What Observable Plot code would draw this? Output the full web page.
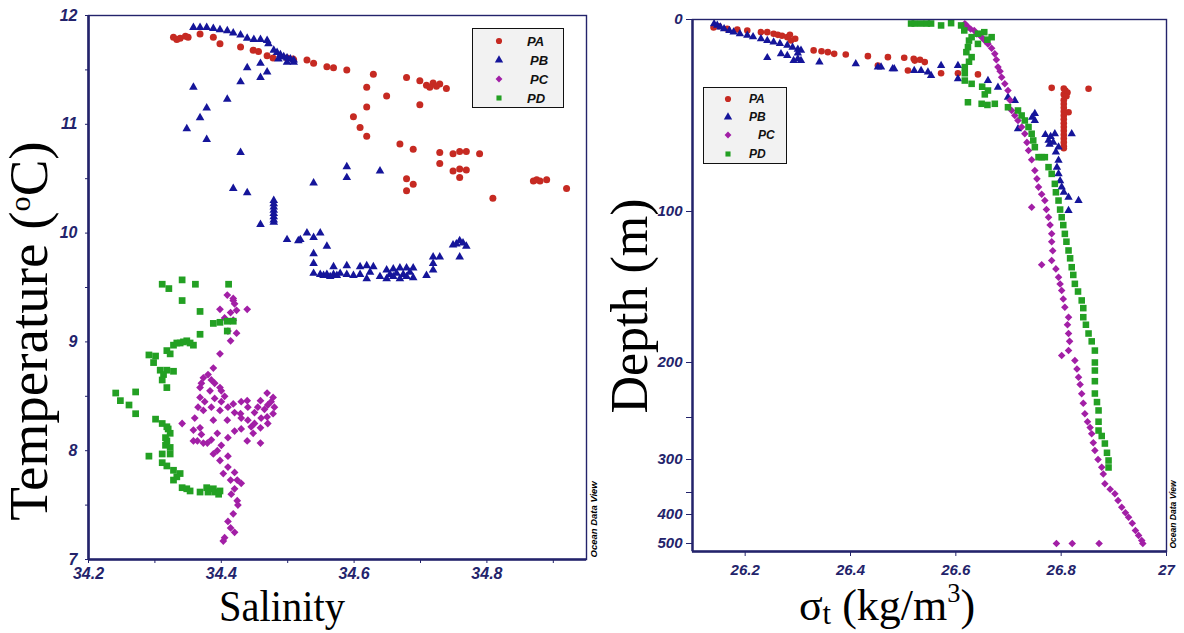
<!DOCTYPE html>
<html>
<head>
<meta charset="utf-8">
<script src="https://cdn.jsdelivr.net/npm/d3@7"></script>
<script src="https://cdn.jsdelivr.net/npm/@observablehq/plot@0.6"></script>
<style>
html, body { margin: 0; padding: 0; background: #fff; }
#wrap { position: relative; width: 1184px; height: 633px; background: #fff; }
#left { position: absolute; left: 0; top: 0; }
#right { position: absolute; left: 600px; top: 0; }
.title { position: absolute; font-family: "Liberation Serif", "Times New Roman", serif; color: #000; white-space: nowrap; }
.title span { position: relative; line-height: 0; }
.legend { position: absolute; background: #f2f2f2; border: 1px solid #111; box-sizing: border-box; }
.legend .lab { position: absolute; font-family: "Liberation Sans", Arial, sans-serif; font-weight: bold; font-style: italic; color: #111; line-height: 1; }
.legend svg { position: absolute; overflow: visible; }
</style>
</head>
<body>
<div id="wrap">
  <div id="left"></div>
  <div id="right"></div>
  <div class="title" style="left:29px;top:331px;font-size:55px;line-height:0.8;transform:translate(-50%,-50%) rotate(-90deg);">Temperature (<span style="font-size:0.55em;top:-0.55em;">o</span>C)</div>
  <div class="title" style="left:282px;top:590px;font-size:44px;line-height:0.75;transform:translateX(-50%) scaleX(0.92);">Salinity</div>
  <div class="title" style="left:630px;top:306px;font-size:52px;line-height:0.8;transform:translate(-50%,-50%) rotate(-90deg);">Depth (m)</div>
  <div class="title" style="left:887px;top:589px;font-size:44px;line-height:0.75;transform:translateX(-50%);">σ<span style="font-size:0.7em;top:0.12em;">t</span> (kg/m<span style="font-size:0.6em;top:-0.7em;">3</span>)</div>
</div>
<script>
// ---------- categories, colours ----------
const stations = ["PA", "PB", "PC", "PD"];
const stationColors = ["#c62a22", "#15159a", "#a21fa6", "#23a023"];
const stationSymbols = ["circle", "triangle", "diamond2", "square"];

// ---------- tick labels ----------
const salTicks = [34.2, 34.4, 34.6, 34.8];
const salMinor = [34.3, 34.5, 34.7, 34.9];
const tempTicks = [7, 8, 9, 10, 11, 12];
const tempMinor = [7.5, 8.5, 9.5, 10.5, 11.5];
const sigmaTicks = [26.2, 26.4, 26.6, 26.8, 27];
const depthTicks = [0, 100, 200, 300, 400, 500];
const depthMinor = [250, 350];

// ---------- T-S diagram: [salinity, temperature °C] ----------
const paTS = [[34.328,11.80],[34.338,11.79],[34.333,11.78],[34.346,11.81],[34.350,11.80],[34.368,11.83],[34.388,11.80],[34.398,11.74],[34.429,11.71],[34.448,11.68],[34.456,11.67],[34.469,11.63],[34.478,11.61],[34.499,11.61],[34.508,11.60],[34.509,11.59],[34.529,11.59],[34.539,11.56],[34.559,11.53],[34.569,11.52],[34.589,11.50],[34.629,11.46],[34.619,11.34],[34.649,11.26],[34.619,11.16],[34.599,11.07],[34.609,10.97],[34.619,10.89],[34.679,11.43],[34.699,11.40],[34.709,11.36],[34.719,11.38],[34.729,11.37],[34.739,11.33],[34.714,11.34],[34.724,11.35],[34.699,11.18],[34.669,10.82],[34.689,10.77],[34.729,10.74],[34.729,10.64],[34.749,10.73],[34.759,10.75],[34.769,10.75],[34.789,10.73],[34.749,10.57],[34.759,10.59],[34.769,10.58],[34.759,10.51],[34.679,10.50],[34.689,10.45],[34.679,10.39],[34.809,10.32],[34.870,10.48],[34.880,10.48],[34.890,10.49],[34.875,10.49],[34.920,10.41]];
const pbTS = [[34.358,11.89],[34.368,11.89],[34.378,11.89],[34.388,11.88],[34.398,11.87],[34.409,11.86],[34.418,11.84],[34.429,11.82],[34.439,11.79],[34.449,11.78],[34.459,11.78],[34.469,11.77],[34.471,11.74],[34.479,11.68],[34.484,11.66],[34.489,11.64],[34.494,11.62],[34.499,11.61],[34.504,11.60],[34.509,11.59],[34.489,11.62],[34.499,11.57],[34.509,11.57],[34.486,11.60],[34.358,11.34],[34.348,10.96],[34.368,11.06],[34.378,11.15],[34.378,10.86],[34.409,11.23],[34.429,11.39],[34.439,11.52],[34.459,11.56],[34.459,11.43],[34.469,11.48],[34.429,10.74],[34.418,10.41],[34.439,10.37],[34.479,10.30],[34.479,10.27],[34.479,10.24],[34.479,10.21],[34.479,10.18],[34.479,10.15],[34.479,10.12],[34.479,10.10],[34.459,10.08],[34.499,9.94],[34.516,9.93],[34.589,10.61],[34.589,10.51],[34.639,10.57],[34.539,10.46],[34.519,9.94],[34.529,10.00],[34.539,9.96],[34.549,10.00],[34.559,9.88],[34.539,9.81],[34.539,9.72],[34.539,9.63],[34.549,9.62],[34.554,9.61],[34.559,9.62],[34.564,9.60],[34.569,9.69],[34.569,9.62],[34.574,9.61],[34.579,9.63],[34.589,9.70],[34.589,9.62],[34.599,9.61],[34.609,9.69],[34.609,9.62],[34.619,9.70],[34.619,9.58],[34.624,9.64],[34.629,9.69],[34.639,9.60],[34.649,9.66],[34.649,9.58],[34.654,9.62],[34.659,9.67],[34.659,9.60],[34.664,9.63],[34.669,9.68],[34.669,9.58],[34.674,9.62],[34.679,9.68],[34.679,9.60],[34.684,9.64],[34.689,9.68],[34.689,9.59],[34.709,9.61],[34.719,9.72],[34.719,9.78],[34.719,9.66],[34.729,9.78],[34.749,9.89],[34.754,9.90],[34.759,9.93],[34.764,9.91],[34.769,9.88],[34.759,9.78]];
const pcTS = [[34.409,9.43],[34.418,9.40],[34.439,9.30],[34.398,9.30],[34.414,9.27],[34.418,9.38],[34.423,9.29],[34.420,9.35],[34.418,9.20],[34.405,9.22],[34.423,9.08],[34.410,9.10],[34.414,9.01],[34.398,8.89],[34.388,8.76],[34.380,8.70],[34.373,8.67],[34.370,8.62],[34.368,8.58],[34.383,8.55],[34.398,8.58],[34.390,8.62],[34.400,8.55],[34.385,8.65],[34.405,8.50],[34.368,8.49],[34.375,8.45],[34.373,8.37],[34.385,8.40],[34.390,8.48],[34.400,8.45],[34.410,8.40],[34.420,8.35],[34.430,8.30],[34.440,8.28],[34.450,8.35],[34.455,8.40],[34.470,8.42],[34.480,8.40],[34.460,8.30],[34.445,8.22],[34.430,8.20],[34.420,8.18],[34.410,8.12],[34.400,8.05],[34.385,8.10],[34.370,8.15],[34.360,8.30],[34.365,8.40],[34.459,8.46],[34.469,8.53],[34.478,8.49],[34.478,8.34],[34.469,8.31],[34.459,8.21],[34.448,8.16],[34.459,8.07],[34.439,8.09],[34.429,8.34],[34.439,8.46],[34.418,8.43],[34.409,8.28],[34.398,8.37],[34.388,8.28],[34.394,8.16],[34.368,8.21],[34.358,8.19],[34.358,8.09],[34.364,8.09],[34.379,8.07],[34.373,8.07],[34.394,8.00],[34.388,7.97],[34.410,7.95],[34.398,7.91],[34.410,7.85],[34.420,7.80],[34.403,7.79],[34.414,7.73],[34.424,7.73],[34.430,7.70],[34.420,7.65],[34.415,7.60],[34.424,7.54],[34.425,7.50],[34.418,7.42],[34.410,7.35],[34.414,7.29],[34.420,7.25],[34.405,7.20],[34.403,7.17],[34.341,8.25],[34.465,8.38],[34.475,8.45],[34.450,8.25],[34.470,8.25],[34.440,8.40],[34.430,8.45]];
const pdTS = [[34.311,9.53],[34.321,9.49],[34.341,9.57],[34.341,9.38],[34.361,9.53],[34.411,9.53],[34.368,9.28],[34.388,9.17],[34.398,9.18],[34.409,9.19],[34.418,9.19],[34.409,9.10],[34.368,9.07],[34.318,8.92],[34.328,8.97],[34.338,8.99],[34.348,9.01],[34.358,8.97],[34.333,8.99],[34.343,9.00],[34.353,8.99],[34.323,8.89],[34.291,8.88],[34.301,8.87],[34.298,8.81],[34.308,8.74],[34.318,8.74],[34.328,8.73],[34.313,8.70],[34.311,8.65],[34.318,8.58],[34.241,8.53],[34.248,8.46],[34.261,8.42],[34.271,8.54],[34.271,8.34],[34.301,8.29],[34.311,8.25],[34.318,8.22],[34.320,8.20],[34.323,8.16],[34.316,8.12],[34.318,8.09],[34.316,8.05],[34.323,8.03],[34.323,7.97],[34.291,7.95],[34.311,7.97],[34.311,7.89],[34.318,7.86],[34.328,7.82],[34.338,7.79],[34.333,7.76],[34.328,7.73],[34.341,7.66],[34.348,7.65],[34.353,7.63],[34.368,7.62],[34.378,7.66],[34.380,7.62],[34.388,7.65],[34.390,7.62],[34.396,7.60],[34.398,7.63]];

// ---------- depth profiles: [sigma-t kg/m3, depth m] ----------
const paSD = [[26.140,4.2],[26.150,3.5],[26.166,4.8],[26.185,5.2],[26.204,5.7],[26.230,6.6],[26.242,6.6],[26.254,7.4],[26.262,8.0],[26.270,8.5],[26.280,9.2],[26.287,10.9],[26.285,8.0],[26.295,10.0],[26.330,16.1],[26.345,16.5],[26.357,17.0],[26.369,17.9],[26.391,18.2],[26.433,19.1],[26.452,24.0],[26.471,19.6],[26.502,19.9],[26.522,21.4],[26.532,21.0],[26.541,22.2],[26.509,26.6],[26.520,20.5],[26.572,28.0],[26.604,28.0],[26.642,28.6],[26.782,35.6],[26.852,36.1],[26.814,48.3],[26.805,36],[26.808,37],[26.812,38],[26.805,39],[26.810,40],[26.805,42],[26.805,44],[26.805,46],[26.805,48],[26.805,50],[26.805,52],[26.805,54],[26.805,56],[26.805,58],[26.805,60],[26.805,62],[26.805,64],[26.805,66],[26.805,67]];
const pbSD = [[26.141,2.2],[26.147,3.0],[26.153,4.0],[26.160,4.8],[26.170,5.8],[26.178,6.6],[26.190,7.5],[26.204,8.3],[26.215,9.0],[26.230,10.1],[26.242,11.0],[26.254,11.8],[26.266,12.6],[26.280,13.5],[26.290,14.5],[26.300,15.5],[26.306,16.1],[26.300,17.5],[26.242,19.9],[26.268,17.9],[26.280,18.8],[26.292,21.4],[26.306,21.4],[26.300,20.5],[26.341,22.2],[26.410,23.1],[26.452,24.8],[26.480,25.7],[26.458,24.8],[26.483,25.7],[26.521,26.6],[26.534,26.6],[26.547,27.4],[26.553,29.2],[26.572,24.0],[26.604,24.0],[26.604,30.9],[26.661,31.8],[26.680,35.3],[26.699,40.5],[26.712,42.2],[26.750,49.0],[26.750,52.6],[26.745,51.0],[26.718,56.9],[26.770,60.0],[26.776,63.0],[26.780,61.0],[26.785,64.0],[26.778,65.0],[26.788,59.5],[26.795,66.5],[26.790,69.0],[26.795,73.4],[26.792,77.0],[26.795,80.4],[26.798,84.0],[26.801,87.3],[26.805,90.0],[26.814,92.6],[26.833,94.3],[26.814,99.5],[26.820,59.5]];
const pcSD = [[26.617,2.2],[26.620,3],[26.623,4.0],[26.628,5],[26.635,5.7],[26.640,7.5],[26.649,9.2],[26.655,11],[26.661,12.7],[26.668,15],[26.674,17.9],[26.677,21],[26.680,24.8],[26.684,27],[26.687,30.1],[26.693,33.5],[26.699,37.0],[26.703,42],[26.706,47.4],[26.712,50],[26.718,52.6],[26.725,56],[26.731,59.5],[26.735,64],[26.738,68.2],[26.744,73],[26.750,78.6],[26.754,83],[26.757,87.3],[26.763,91],[26.769,94.3],[26.744,97.8],[26.772,99],[26.776,103.8],[26.779,109],[26.782,114.8],[26.782,120],[26.784,126],[26.782,132.5],[26.763,135.3],[26.790,138],[26.795,143.5],[26.798,148],[26.801,152.3],[26.804,158],[26.807,163.4],[26.814,170.0],[26.812,175],[26.814,180.8],[26.816,186],[26.814,192.1],[26.801,195.4],[26.826,198.7],[26.830,206],[26.833,213.4],[26.836,220],[26.839,228.5],[26.842,237],[26.845,246.6],[26.850,255],[26.855,262],[26.858,269.4],[26.861,280],[26.864,289.3],[26.870,300],[26.877,311.7],[26.880,322],[26.883,336.8],[26.893,345],[26.902,353.0],[26.908,368],[26.915,383.4],[26.922,396],[26.928,409.3],[26.935,430],[26.941,455.2],[26.947,472],[26.953,489.7],[26.955,500],[26.791,500],[26.821,500],[26.872,500]];
const pdSD = [[26.515,2.1],[26.522,2.1],[26.534,2.1],[26.545,2.1],[26.553,2.1],[26.572,3.1],[26.591,1.9],[26.610,3.1],[26.616,5.7],[26.630,9.2],[26.625,11],[26.623,14.4],[26.620,17],[26.630,19.6],[26.625,22],[26.617,24.8],[26.617,28],[26.617,31.8],[26.630,33.5],[26.642,7.4],[26.654,6.6],[26.668,9.2],[26.660,10.5],[26.642,12.7],[26.650,35],[26.661,37.0],[26.655,39],[26.623,43.1],[26.649,43.9],[26.660,44.5],[26.674,43.9],[26.699,45.7],[26.718,47.4],[26.725,50],[26.731,52.6],[26.738,56],[26.744,59.5],[26.747,63],[26.750,66.5],[26.757,71.7],[26.763,71.7],[26.769,71.7],[26.776,76.9],[26.782,80.4],[26.788,85.6],[26.790,90],[26.795,94.3],[26.798,99],[26.801,103.8],[26.804,109],[26.807,114.8],[26.810,120],[26.814,125.8],[26.817,131],[26.820,136.9],[26.823,142],[26.826,147.9],[26.832,153],[26.839,158.9],[26.842,164],[26.842,170.0],[26.847,175],[26.852,180.8],[26.858,186],[26.864,192.1],[26.864,200],[26.864,207.3],[26.864,217],[26.864,228.2],[26.868,236],[26.871,243.6],[26.871,255],[26.871,265.5],[26.877,272],[26.883,281.0],[26.887,292],[26.890,301.5],[26.890,312.1]];

// ---------- build ----------
const navy = "#23236b";
const tsSeries = [paTS, pbTS, pcTS, pdTS];
const sdSeries = [paSD, pbSD, pcSD, pdSD];
const tsRadius = [3.5, 3.2, 3.5, 3.8];
const sdRadius = [3.3, 3.1, 3.4, 3.7];
const fmt = d => `${d}`;

const axisStyle = (size) => ({
  fontFamily: "'Liberation Sans', Arial, sans-serif",
  fontSize: size + "px",
  fontWeight: "bold",
  fontStyle: "italic",
  color: navy,
  background: "transparent",
  overflow: "visible"
});

const left = Plot.plot({
  width: 600, height: 633,
  marginLeft: 88, marginRight: 14, marginTop: 15, marginBottom: 74,
  x: {domain: [34.2, 34.95]},
  y: {domain: [7, 12]},
  style: axisStyle(16),
  marks: [
    Plot.axisX({ticks: salTicks, tickSize: 4, tickPadding: 4, tickFormat: fmt, label: null}),
    Plot.axisX({ticks: salMinor, tickSize: 4, tickFormat: () => "", label: null}),
    Plot.axisY({ticks: tempTicks, tickSize: 3, tickPadding: 8, tickFormat: fmt, label: null}),
    Plot.axisY({ticks: tempMinor, tickSize: 3, tickFormat: () => "", label: null}),
    ...tsSeries.map((data, i) => Plot.dot(data, {
      x: d => d[0], y: d => d[1], symbol: stationSymbols[i], r: tsRadius[i],
      fill: stationColors[i], stroke: "none"
    })),
    Plot.frame({stroke: navy, strokeWidth: 1.4}),
    Plot.ruleX([34.2], {stroke: navy, strokeWidth: 2.6}),
    Plot.ruleY([7], {stroke: navy, strokeWidth: 2.6}),
    Plot.text(["Ocean Data View"], {frameAnchor: "bottom-right", dx: 10, dy: -2, rotate: -90, textAnchor: "start",
      fill: "#000", fontSize: 9.5, fontWeight: "bold", fontStyle: "italic"})
  ]
});
document.getElementById("left").appendChild(left);

const right = Plot.plot({
  width: 584, height: 633,
  marginLeft: 92, marginRight: 18, marginTop: 19, marginBottom: 82,
  x: {domain: [26.1, 27]},
  y: {type: "linear", domain: [0, 100, 200, 250, 300, 350, 400, 500, 528],
      range: [19, 211, 362, 417, 459, 492, 514, 543, 551]},
  style: axisStyle(15),
  marks: [
    Plot.axisX({ticks: sigmaTicks, tickSize: 5, tickPadding: 8, tickFormat: fmt, label: null}),
    Plot.axisY({ticks: depthTicks, tickSize: 6, tickPadding: 4, tickFormat: fmt, label: null}),
    Plot.axisY({ticks: depthMinor, tickSize: 6, tickFormat: () => "", label: null}),
    ...sdSeries.map((data, i) => Plot.dot(data, {
      x: d => d[0], y: d => d[1], symbol: stationSymbols[i], r: sdRadius[i],
      fill: stationColors[i], stroke: "none"
    })),
    Plot.frame({stroke: navy, strokeWidth: 1.4}),
    Plot.ruleX([26.1], {stroke: navy, strokeWidth: 2.4}),
    Plot.ruleY([528], {stroke: navy, strokeWidth: 2.4}),
    Plot.text(["Ocean Data View"], {frameAnchor: "bottom-right", dx: 9, dy: -3, rotate: -90, textAnchor: "start",
      fill: "#000", fontSize: 8.5, fontWeight: "bold", fontStyle: "italic"})
  ]
});
document.getElementById("right").appendChild(right);

// ---------- legends (HTML boxes) ----------
const symbolTypes = {circle: d3.symbolCircle, triangle: d3.symbolTriangle, diamond2: d3.symbolDiamond2, square: d3.symbolSquare};
const legendSizes = [30, 30, 30, 26];
function addLegend(box, rowsY, symX, labX, fontSize) {
  const wrap = document.getElementById("wrap");
  const div = document.createElement("div");
  div.className = "legend";
  Object.assign(div.style, {left: box[0] + "px", top: box[1] + "px", width: box[2] + "px", height: box[3] + "px"});
  stations.forEach((name, i) => {
    const svg = d3.create("svg").attr("width", 1).attr("height", 1)
      .style("left", symX + "px").style("top", rowsY[i] + "px");
    svg.append("path").attr("d", d3.symbol(symbolTypes[stationSymbols[i]], legendSizes[i])())
      .attr("fill", stationColors[i]);
    div.appendChild(svg.node());
    const lab = document.createElement("div");
    lab.className = "lab";
    lab.textContent = name;
    Object.assign(lab.style, {left: labX[i] + "px", top: (rowsY[i] - fontSize * 0.5) + "px", fontSize: fontSize + "px"});
    div.appendChild(lab);
  });
  wrap.appendChild(div);
}
addLegend([472, 28, 92, 80], [12, 31, 50, 69], 26, [54, 57, 57, 54], 13);
addLegend([703, 87, 84, 77], [11, 29, 47, 66], 24, [45, 45, 54, 45], 12);
</script>
</body>
</html>
